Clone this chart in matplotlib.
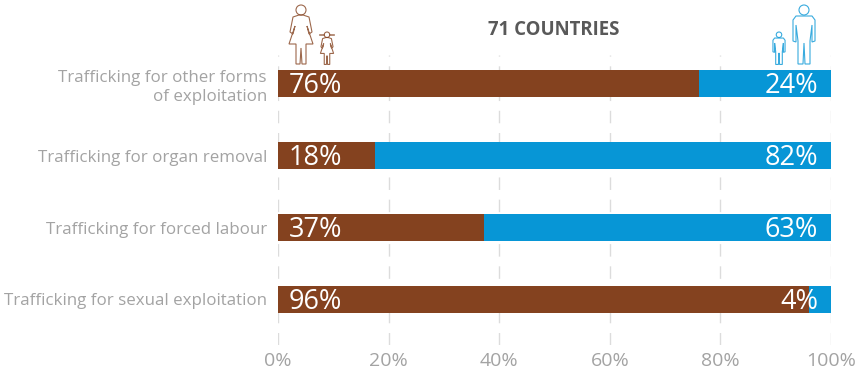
import matplotlib.pyplot as plt
from matplotlib.patches import Circle, PathPatch
from matplotlib.path import Path

categories = ['Trafficking for sexual exploitation', 'Trafficking for forced labour',
              'Trafficking for organ removal', 'Trafficking for other forms\nof exploitation']
female = [96, 37.3, 17.5, 76.2]
male = [4, 62.7, 82.5, 23.8]
female_labels = ['96%', '37%', '18%', '76%']
male_labels = ['4%', '63%', '82%', '24%']
ticks = [0, 20, 40, 60, 80, 100]
tick_labels = ['0%', '20%', '40%', '60%', '80%', '100%']

W, H = 859, 374
brown = '#84421f'
blue = '#0796d6'
grey = '#a3a3a3'

plt.rcParams['font.family'] = ['Open Sans', 'DejaVu Sans']

fig = plt.figure(figsize=(W / 100, H / 100), dpi=100)
ax = fig.add_axes([278 / W, 1 - 345 / H, 553 / W, 290 / H])

y = range(len(categories))
ax.barh(y, female, height=0.375, color=brown, zorder=3)
ax.barh(y, male, left=female, height=0.375, color=blue, zorder=3)

for i in y:
    ax.text(2, i - 0.04, female_labels[i], color='white', fontsize=19.5, va='center', ha='left', zorder=4)
    ax.text(97.7, i - 0.04, male_labels[i], color='white', fontsize=19.5, va='center', ha='right', zorder=4)

ax.set_xlim(0, 100)
ax.set_ylim(-0.632, 3.396)
ax.set_xticks(ticks)
ax.set_xticklabels(tick_labels, fontsize=14, color=grey)
ax.set_yticks(list(y))
ax.set_yticklabels(categories, fontsize=12.2, color=grey, ha='right', linespacing=1.3)
ax.tick_params(length=0, axis='both')
ax.tick_params(axis='x', pad=5)
ax.tick_params(axis='y', pad=8)
for lab in ax.get_yticklabels():
    lab.set_y(lab.get_position()[1])
ax.xaxis.grid(True, color='#dcdcdc', linewidth=1, linestyle=(0, (9, 7)), zorder=0)
for s in ax.spines.values():
    s.set_visible(False)

fig.text(554 / W, 1 - 30 / H, '71 COUNTRIES', fontsize=13.4, fontweight='bold', color='#595959',
         ha='center', va='center')

# icons, drawn in pixel coordinates on an overlay
ov = fig.add_axes([0, 0, 1, 1], zorder=5)
ov.set_xlim(0, W)
ov.set_ylim(H, 0)
ov.axis('off')


def outline(points, color):
    verts = points + [points[0]]
    codes = [Path.MOVETO] + [Path.LINETO] * (len(points) - 1) + [Path.CLOSEPOLY]
    ov.add_patch(PathPatch(Path(verts, codes), fill=False, edgecolor=color, linewidth=0.8, alpha=0.8))


def woman(cx, top, s, color):
    p = [(-2, 10), (-8, 12), (-11, 27), (-8, 29), (-6, 21), (-12, 39), (-5, 39), (-5, 59), (-1, 59), (0, 43),
         (1, 59), (5, 59), (5, 39), (12, 39), (6, 21), (8, 29), (11, 27), (8, 12), (2, 10)]
    outline([(cx + a * s, top + b * s) for a, b in p], color)
    ov.add_patch(Circle((cx, top + 5 * s), 5 * s, fill=False, edgecolor=color, linewidth=0.8, alpha=0.8))


def man(cx, top, s, color):
    p = [(-8, 11), (-11, 15), (-11, 36), (-8, 37), (-8, 20), (-6, 36), (-6, 59), (-1, 59), (0, 38),
         (1, 59), (6, 59), (6, 36), (8, 20), (8, 37), (11, 36), (11, 15), (8, 11)]
    outline([(cx + a * s, top + b * s) for a, b in p], color)
    ov.add_patch(Circle((cx, top + 5 * s), 5 * s, fill=False, edgecolor=color, linewidth=0.8, alpha=0.8))


woman(301, 5, 1, brown)
woman(327, 32, 0.55, brown)
ov.plot([320, 324], [34.5, 34.5], color=brown, linewidth=1.2, alpha=0.7)
ov.plot([330, 334], [34.5, 34.5], color=brown, linewidth=1.2, alpha=0.7)
man(804, 5, 1, blue)
man(779, 32, 0.55, blue)

fig.savefig('out.png', dpi=100)
